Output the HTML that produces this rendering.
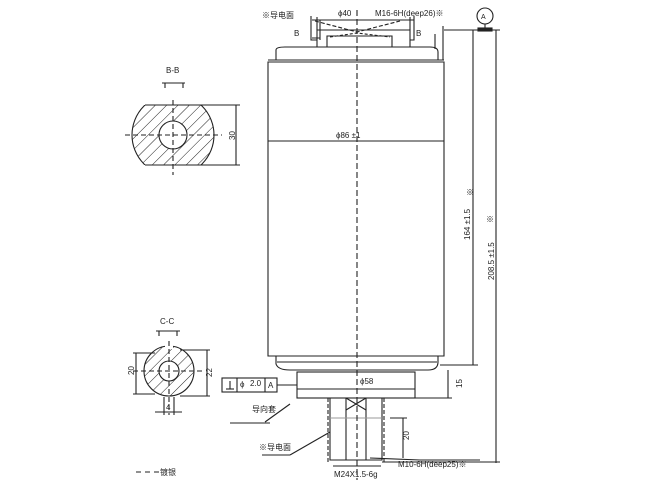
<!DOCTYPE html>
<html><head><meta charset="utf-8"><style>
html,body{margin:0;padding:0;background:#fff;}
svg{display:block;}
text{font-family:"Liberation Sans","Noto Sans CJK SC",sans-serif;fill:#222;}
</style></head><body>
<svg width="650" height="496" viewBox="0 0 650 496" xmlns="http://www.w3.org/2000/svg">
<defs>
<pattern id="h" patternUnits="userSpaceOnUse" width="8" height="8" patternTransform="rotate(45)">
<line x1="0" y1="0" x2="0" y2="8" stroke="#222" stroke-width="1"/></pattern>
<clipPath id="bb"><rect x="120" y="105" width="110" height="60"/></clipPath>
</defs>
<g stroke="#222" fill="none" stroke-width="1.1">
<path d="M268 62 V356 H444 V62 Z"/>
<line x1="268" y1="141" x2="444" y2="141"/>
<path d="M276 60 V50 Q276 47 285 47 H430 Q438 47 438 52 V60 Z"/>
<line x1="268" y1="60" x2="444" y2="60"/>
<path d="M276 356 V364 Q278 370 290 370 H428 Q438 370 438 362 V356"/>
<line x1="277" y1="362" x2="437" y2="362"/>
<path d="M317 47 V30 H410 V47"/>
<path d="M327 47 V36 H392 V47"/>
<line x1="317" y1="30" x2="317" y2="17"/>
<line x1="410" y1="30" x2="410" y2="17"/>
<line x1="312" y1="20" x2="414" y2="20"/>
<path d="M315 21 L357 32 L400 21" stroke-dasharray="4,2"/>
<path d="M330 37 L357 33 L390 37" stroke-dasharray="3,2"/>
<path d="M311 16 V40 H317 M414 16 V40 H410"/>
<rect x="297" y="372" width="118" height="26"/>
<line x1="297" y1="389" x2="415" y2="389"/>
<path d="M330 398 V460 H382 V398"/>
<path d="M346 398 V460 M366 398 V460"/>
<path d="M346 398 L366 410 M366 398 L346 410"/>
<line x1="328" y1="398" x2="328" y2="462" stroke-dasharray="4,2"/>
<line x1="384" y1="398" x2="384" y2="462" stroke-dasharray="4,2"/>
<line x1="330" y1="418" x2="382" y2="418" stroke="#999"/>
<line x1="357" y1="10" x2="357" y2="480" stroke-dasharray="6,3"/>
<line x1="473" y1="30" x2="473" y2="365"/>
<line x1="496" y1="30" x2="496" y2="463"/>
<line x1="444" y1="30" x2="500" y2="30"/>
<line x1="440" y1="365" x2="478" y2="365"/>
<line x1="382" y1="462" x2="500" y2="462"/>
<line x1="448" y1="370" x2="448" y2="398"/>
<line x1="415" y1="398" x2="452" y2="398"/>
<line x1="443" y1="26" x2="443" y2="60"/>
<line x1="435" y1="34" x2="435" y2="49"/>
<circle cx="485" cy="16" r="8"/>
<line x1="485" y1="24" x2="485" y2="30"/>
<rect x="478" y="28" width="14" height="3" fill="#222"/>
<line x1="390" y1="418" x2="407" y2="418"/>
<line x1="403" y1="418" x2="403" y2="458"/>
<line x1="333" y1="466" x2="381" y2="466"/>
<line x1="420" y1="460" x2="370" y2="458"/>
<line x1="420" y1="460" x2="480" y2="460"/>
<rect x="222" y="378" width="55" height="14"/>
<line x1="237" y1="378" x2="237" y2="392"/><line x1="265" y1="378" x2="265" y2="392"/>
<line x1="277" y1="385" x2="297" y2="385"/>
<line x1="226" y1="389" x2="234" y2="389"/><line x1="230" y1="381" x2="230" y2="389"/>
<line x1="290" y1="404" x2="265" y2="422"/>
<line x1="270" y1="423" x2="230" y2="423"/>
<line x1="330" y1="432" x2="290" y2="455"/>
<line x1="290" y1="455" x2="262" y2="455"/>
<path d="M320 20 V40 M312 38 H320"/>
<g clip-path="url(#bb)">
<circle cx="173" cy="135" r="41" fill="url(#h)"/>
</g>
<line x1="145" y1="105" x2="201" y2="105"/>
<line x1="145" y1="165" x2="201" y2="165"/>
<circle cx="173" cy="135" r="14" fill="#fff"/>
<line x1="125" y1="135" x2="222" y2="135" stroke-dasharray="5,3"/>
<line x1="173" y1="100" x2="173" y2="175" stroke-dasharray="5,3"/>
<line x1="201" y1="105" x2="240" y2="105"/><line x1="201" y1="165" x2="240" y2="165"/>
<line x1="236" y1="105" x2="236" y2="165"/>
<path d="M162 83 H185 M165 83 V88 M183 83 V88"/>
<circle cx="169" cy="371" r="25" fill="url(#h)"/>
<circle cx="169" cy="371" r="10" fill="#fff"/>
<rect x="165" y="345" width="8" height="4" fill="#fff" stroke="none"/>
<line x1="133" y1="371" x2="205" y2="371" stroke-dasharray="5,3"/>
<line x1="169" y1="341" x2="169" y2="415" stroke-dasharray="5,3"/>
<line x1="136" y1="353" x2="136" y2="394"/>
<line x1="133" y1="353" x2="155" y2="353"/><line x1="133" y1="394" x2="155" y2="394"/>
<line x1="207" y1="350" x2="207" y2="396"/>
<line x1="180" y1="350" x2="210" y2="350"/><line x1="180" y1="396" x2="210" y2="396"/>
<line x1="164" y1="397" x2="164" y2="415"/><line x1="174" y1="397" x2="174" y2="415"/>
<line x1="155" y1="412" x2="182" y2="412"/>
<path d="M156 331 H180 M159 331 V336 M177 331 V336"/>
<line x1="136" y1="472" x2="160" y2="472" stroke-dasharray="5,4"/>
</g>
<g font-size="8">
<text x="262" y="18">※导电面</text>
<text x="338" y="16">ϕ40</text>
<text x="375" y="16">M16-6H(deep26)※</text>
<text x="294" y="36">B</text>
<text x="416" y="36">B</text>
<text x="481" y="19" font-size="7">A</text>
<text x="336" y="138">ϕ86 ±1</text>
<text x="166" y="73">B-B</text>
<text x="160" y="324">C-C</text>
<text x="240" y="387">ϕ</text><text x="250" y="386">2.0</text><text x="268" y="388">A</text>
<text x="360" y="384">ϕ58</text>
<text x="252" y="412">导向套</text>
<text x="259" y="450">※导电面</text>
<text x="334" y="477">M24X1.5-6g</text>
<text x="398" y="467">M10-6H(deep25)※</text>
<text x="160" y="475">镀银</text>
<text transform="translate(470,240) rotate(-90)">164 ±1.5</text>
<text x="466" y="195">※</text>
<text transform="translate(494,280) rotate(-90)">208.5 ±1.5</text>
<text x="486" y="222">※</text>
<text transform="translate(235,140) rotate(-90)">30</text>
<text transform="translate(462,388) rotate(-90)">15</text>
<text transform="translate(409,440) rotate(-90)">20</text>
<text transform="translate(134,375) rotate(-90)">20</text>
<text transform="translate(212,377) rotate(-90)">22</text>
<text x="166" y="410">4</text>
</g>
</svg>
</body></html>
